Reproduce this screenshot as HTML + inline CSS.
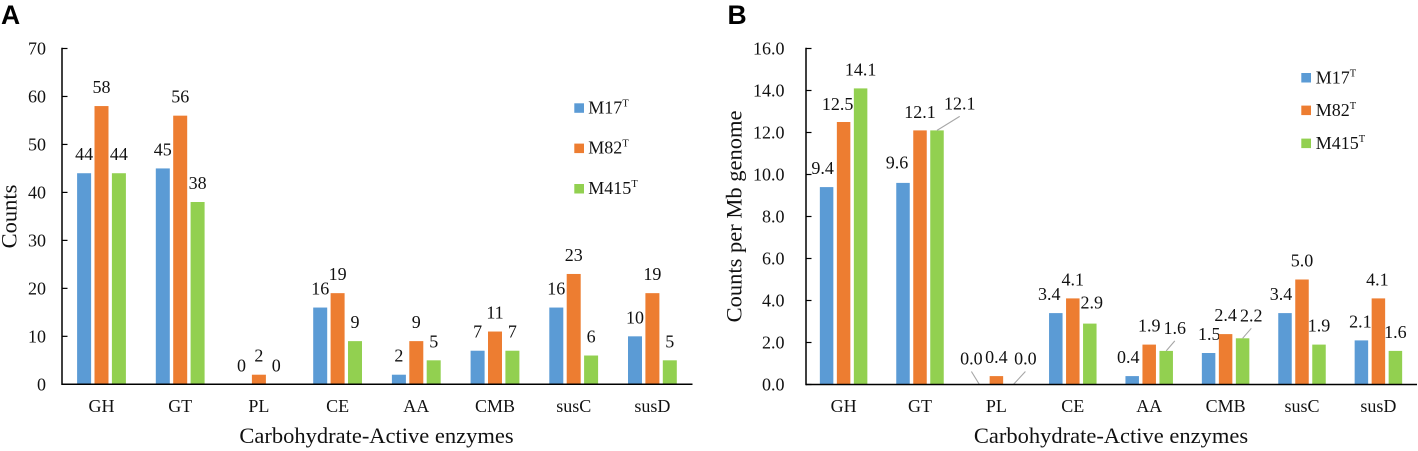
<!DOCTYPE html>
<html lang="en">
<head>
<meta charset="utf-8">
<title>Carbohydrate-Active enzymes counts</title>
<style>
html,body{margin:0;padding:0;background:#fff;width:1418px;height:451px;overflow:hidden}
svg{display:block;filter:blur(0.3px)}
text{font-family:"Liberation Serif",serif;fill:#111;font-size:18px}
.title{font-size:22.5px}
.panel{font-family:"Liberation Sans",sans-serif;font-weight:bold;font-size:26.5px;fill:#000}
.sup{font-size:10.5px}
</style>
</head>
<body>
<svg id="figure" xmlns="http://www.w3.org/2000/svg" width="1418" height="451" viewBox="0 0 1418 451">
  <rect width="1418" height="451" fill="#fff"/>
  <text class="panel" x="1" y="24">A</text>
  <text class="panel" x="727.5" y="24">B</text>

  <text class="title" x="376.5" y="443" text-anchor="middle">Carbohydrate-Active enzymes</text>
  <text class="title" transform="translate(16.7 216.5) rotate(-90)" text-anchor="middle">Counts</text>
  <text class="title" x="1111" y="443" text-anchor="middle">Carbohydrate-Active enzymes</text>
  <text class="title" transform="translate(741.7 216.5) rotate(-90)" text-anchor="middle">Counts per Mb genome</text>

  <g>
    <g><rect x="574.3" y="103.3" width="9.7" height="9.5" fill="#5B9BD5"/><text x="588.3" y="113.3">M17<tspan class="sup" dy="-7">T</tspan></text></g>
    <g><rect x="574.3" y="143.6" width="9.7" height="9.5" fill="#ED7D31"/><text x="588.3" y="153.6">M82<tspan class="sup" dy="-7">T</tspan></text></g>
    <g><rect x="574.3" y="184" width="9.7" height="9.5" fill="#92D050"/><text x="588.3" y="194">M415<tspan class="sup" dy="-7">T</tspan></text></g>
  </g>
  <g>
    <g><rect x="1301.3" y="73" width="9.7" height="9.5" fill="#5B9BD5"/><text x="1315.7" y="83.3">M17<tspan class="sup" dy="-7">T</tspan></text></g>
    <g><rect x="1301.3" y="105.6" width="9.7" height="9.5" fill="#ED7D31"/><text x="1315.7" y="116">M82<tspan class="sup" dy="-7">T</tspan></text></g>
    <g><rect x="1301.3" y="138.6" width="9.7" height="9.5" fill="#92D050"/><text x="1315.7" y="149">M415<tspan class="sup" dy="-7">T</tspan></text></g>
  </g>
</svg>
<script>
// ---- Data ----
const categories = ["GH", "GT", "PL", "CE", "AA", "CMB", "susC", "susD"];
const seriesNames = ["M17", "M82", "M415"];

const countsM17  = [44, 45, 0, 16, 2, 7, 16, 10];
const countsM82  = [58, 56, 2, 19, 9, 11, 23, 19];
const countsM415 = [44, 38, 0, 9, 5, 7, 6, 5];

const perMbM17  = [9.4, 9.6, 0.0, 3.4, 0.4, 1.5, 3.4, 2.1];
const perMbM82  = [12.5, 12.1, 0.4, 4.1, 1.9, 2.4, 5.0, 4.1];
const perMbM415 = [14.1, 12.1, 0.0, 2.9, 1.6, 2.2, 1.9, 1.6];

const countTicks = [0, 10, 20, 30, 40, 50, 60, 70];
const perMbTicks = [0, 2, 4, 6, 8, 10, 12, 14, 16];

// ---- Layout (label placement tweaks, separate from the data) ----
const colors = ["#5B9BD5", "#ED7D31", "#92D050"];
const noNudge = categories.map(() => [[0, 0], [0, 0], [0, 0]]);
const nudgeB = [
  [[-4, 0], [-6, 1], [0, 0]],
  [[-6, -1.5], [0, 0.5], [22.7, -8]],
  [[-8, -7], [0, 0], [12, -7]],
  [[-6.5, 0], [0, 0], [2, -2]],
  [[-4, 0], [0, 0], [8.6, -4]],
  [[0.7, 0], [0, 0], [8.7, -4]],
  [[-4, 0], [0, 0], [0, 0]],
  [[-1, 0], [-1, 0], [0, 0]]
];
const leadersB = ["1-2", "2-0", "2-2", "4-2", "5-2"];

const svg = document.getElementById("figure");
const NS = "http://www.w3.org/2000/svg";

function make(tag, attrs, parent) {
  const el = document.createElementNS(NS, tag);
  for (const k in attrs) el.setAttribute(k, attrs[k]);
  parent.appendChild(el);
  return el;
}

function drawChart(cfg) {
  const yScale = v => cfg.y0 - (v / cfg.yMax) * (cfg.y0 - cfg.yTop);
  const catW = cfg.width / categories.length;
  const xScale = (c, s) => cfg.left + catW * (c + 0.5) + (s - 1) * cfg.step;

  const root = make("g", {}, svg);
  
  

  // bars + value labels
  cfg.series.forEach((vals, s) => {
    vals.forEach((v, c) => {
      const cx = xScale(c, s);
      const top = yScale(v);
      const h = cfg.y0 - top;
      if (h > 0) {
        const bar = make("rect", { x: cx - cfg.barW / 2, y: top, width: cfg.barW, height: h, fill: colors[s] }, root);
        
        
      }
      const n = cfg.nudge[c][s];
      const lx = cx + n[0];
      const ly = top - 13 + n[1];
      const label = make("text", { x: lx, y: ly, "text-anchor": "middle" }, root);
      
      
      label.textContent = v.toFixed(cfg.decimals);
      if (cfg.leaders.includes(c + "-" + s)) {
        const line = make("line", { x1: cx, y1: top, x2: lx, y2: ly + 7, stroke: "#a6a6a6", "stroke-width": 1.1 }, root);
        
        
      }
    });
  });

  // axes
  const yAxis = make("line", { x1: cfg.axisX, y1: cfg.yTop - 0.7, x2: cfg.axisX, y2: cfg.y0 + 0.7, stroke: "#000", "stroke-width": 1.5 }, root);
  
  
  const xAxis = make("line", { x1: cfg.axisX, y1: cfg.y0, x2: cfg.axisEnd, y2: cfg.y0, stroke: "#000", "stroke-width": 1.5 }, root);
  
  

  // y ticks
  cfg.ticks.forEach(t => {
    const y = yScale(t);
    const tick = make("line", { x1: cfg.axisX, y1: y, x2: cfg.axisX + 5.5, y2: y, stroke: "#000", "stroke-width": 1.2 }, root);
    
    
    const tl = make("text", { x: cfg.tickLabelX, y: y + 6, "text-anchor": "end" }, root);
    
    
    tl.textContent = t.toFixed(cfg.decimals);
  });

  // category labels
  categories.forEach((name, c) => {
    const cl = make("text", { x: xScale(c, 1), y: 412, "text-anchor": "middle" }, root);
    
    
    cl.textContent = name;
  });
}

drawChart({
  id: "a", series: [countsM17, countsM82, countsM415], ticks: countTicks, decimals: 0,
  yMax: 70, y0: 384.3, yTop: 48.5, left: 62.15, width: 629.6, step: 17.4, barW: 14,
  axisX: 62, axisEnd: 692.5, tickLabelX: 46, nudge: noNudge, leaders: []
});
drawChart({
  id: "b", series: [perMbM17, perMbM82, perMbM415], ticks: perMbTicks, decimals: 1,
  yMax: 16, y0: 384.5, yTop: 48.5, left: 805.4, width: 611.2, step: 17, barW: 13.5,
  axisX: 806, axisEnd: 1417, tickLabelX: 784.5, nudge: nudgeB, leaders: leadersB
});
</script>
</body>
</html>
